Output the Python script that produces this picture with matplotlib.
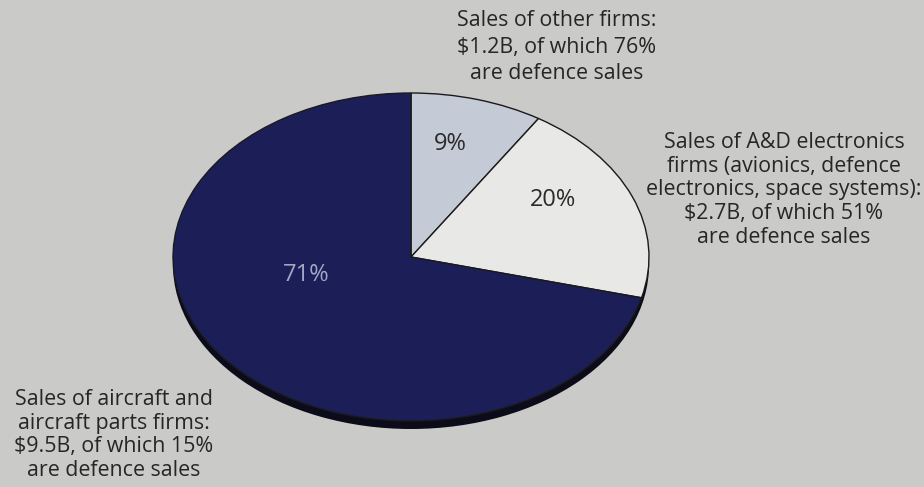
import matplotlib
matplotlib.use("Agg")
import matplotlib.pyplot as plt

# Shares of sales by firm type (clockwise from 12 o'clock)
segments = ["Other firms", "A&D electronics firms", "Aircraft and aircraft parts firms"]
shares = [9, 20, 71]
share_labels = ["9%", "20%", "71%"]
slice_colors = ["#c5cad7", "#e8e8e6", "#1c1e58"]
pct_colors = ["#2b2b2b", "#2b2b2b", "#a3a7c4"]

callouts = [
    "Sales of other firms:\n$1.2B, of which 76%\nare defence sales",
    "Sales of A&D electronics\nfirms (avionics, defence\nelectronics, space systems):\n$2.7B, of which 51%\nare defence sales",
    "Sales of aircraft and\naircraft parts firms:\n$9.5B, of which 15%\nare defence sales",
]

W, H = 924, 487
bg = "#cacac8"
fig = plt.figure(figsize=(W / 100, H / 100), dpi=100, facecolor=bg)
ax = fig.add_axes([0, 0, 1, 1])
ax.set_facecolor(bg)

# Pie centre and radii in pixels (tilted disc -> ellipse)
cx, cy = 411, 257
rx, ry = 238, 164
depth = 8 / ry

# Dark rim under the disc gives the tilted-disc thickness
ax.pie([1], colors=["#0b0b1a"], radius=1, center=(0, -depth),
       startangle=90, wedgeprops=dict(linewidth=0))

wedges, texts = ax.pie(shares, colors=slice_colors, radius=1, center=(0, 0),
                       startangle=90, counterclock=False,
                       wedgeprops=dict(edgecolor="#1a1a1a", linewidth=1.0))

ax.set_aspect("auto")
ax.set_xlim(-cx / rx, (W - cx) / rx)
ax.set_ylim(-(H - cy) / ry, cy / ry)
ax.axis("off")

font = "Open Sans"
# Percent labels inside slices (pixel positions converted to data units)
pct_pos = [(450, 144), (553, 200), (306, 275)]
for (px, py), lab, col in zip(pct_pos, share_labels, pct_colors):
    ax.text((px - cx) / rx, (cy - py) / ry, lab, ha="center", va="center",
            fontsize=17, color=col, family=font)

# Callout texts: (centre x, centre y, line spacing)
callout_pos = [(557, 47, 1.33), (784, 190, 1.18), (114, 435, 1.18)]
for (px, py, ls), txt in zip(callout_pos, callouts):
    ax.text((px - cx) / rx, (cy - py) / ry, txt, ha="center", va="center",
            fontsize=15.4, color="#262626", family=font, linespacing=ls)

fig.savefig("out.png", dpi=100, facecolor=bg)
